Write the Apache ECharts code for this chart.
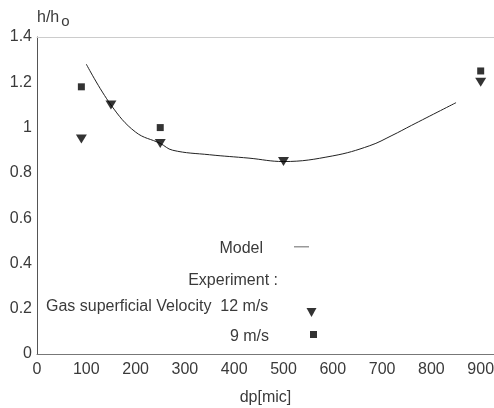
<!DOCTYPE html>
<html>
<head>
<meta charset="utf-8">
<script src="https://cdn.jsdelivr.net/npm/echarts@6/dist/echarts.min.js"></script>
<style>
  html, body { margin: 0; padding: 0; background: #fff; }
  #chart { width: 494px; height: 408px; }
</style>
</head>
<body>
<div id="chart"></div>
<script>
// Model prediction curve: particle diameter (micron) vs h/h0
const modelDp = [100, 150, 200, 250, 275, 350, 430, 500, 600, 675, 720, 760, 850];
const modelH  = [1.28, 1.10, 0.98, 0.93, 0.90, 0.88, 0.865, 0.85, 0.875, 0.92, 0.965, 1.01, 1.11];

// Experimental points, gas superficial velocity 12 m/s
const exp12Dp = [90, 150, 250, 500, 900];
const exp12H  = [0.95, 1.10, 0.93, 0.85, 1.20];

// Experimental points, gas superficial velocity 9 m/s
const exp9Dp = [90, 250, 900];
const exp9H  = [1.18, 1.00, 1.25];

// Axis ticks
const xTicks = [0, 100, 200, 300, 400, 500, 600, 700, 800, 900];
const yTicks = [0, 0.2, 0.4, 0.6, 0.8, 1, 1.2, 1.4];

const pairs = (xs, ys) => xs.map((x, i) => [x, ys[i]]);

const FONT = 'Liberation Sans, Arial, sans-serif';
const TXT = '#3a3a3a';
const FS = 16;

const chart = echarts.init(document.getElementById('chart'), null, { renderer: 'canvas' });

const label = (text, x, y, align) => ({
  type: 'text', x: x, y: y,
  style: {
    text: text, fill: TXT, font: FS + 'px ' + FONT,
    align: align, verticalAlign: 'middle',
    textAlign: align, textVerticalAlign: 'middle'
  }
});

chart.setOption({
  animation: false,
  backgroundColor: '#fff',
  grid: { left: 37, right: 0, top: 37, bottom: 54, outerBoundsMode: 'none', containLabel: false },
  xAxis: [{
    type: 'value',
    min: xTicks[0],
    max: 927,
    interval: 100,
    name: 'dp[mic]',
    nameLocation: 'middle',
    nameGap: 36,
    nameTextStyle: { fontFamily: FONT, fontSize: FS, color: TXT },
    axisLine: { lineStyle: { color: '#777', width: 1 } },
    axisTick: { show: false },
    splitLine: { show: false },
    axisLabel: {
      fontFamily: FONT, fontSize: FS, color: TXT, margin: 8,
      showMaxLabel: false,
      formatter: v => (xTicks.indexOf(v) >= 0 ? String(v) : '')
    }
  }, {
    type: 'value',
    position: 'top',
    min: xTicks[0],
    max: 927,
    axisLine: { show: true, lineStyle: { color: '#ccc', width: 1 } },
    axisTick: { show: false },
    axisLabel: { show: false },
    splitLine: { show: false }
  }],
  yAxis: {
    type: 'value',
    min: yTicks[0],
    max: yTicks[yTicks.length - 1],
    interval: 0.2,
    name: '{a|h/h}{b|o}',
    nameLocation: 'end',
    nameGap: 6,
    nameTextStyle: {
      align: 'left',
      rich: {
        a: { fontFamily: FONT, fontSize: FS, color: TXT },
        b: { fontFamily: FONT, fontSize: 15, color: TXT, padding: [8, 0, 0, 2] }
      }
    },
    axisLine: { show: true, lineStyle: { color: '#555', width: 1 } },
    axisTick: { show: false },
    splitLine: { show: false },
    axisLabel: {
      fontFamily: FONT, fontSize: FS, color: TXT, margin: 5,
      formatter: v => String(Math.round(v * 10) / 10)
    }
  },
  legend: [{
    data: [{ name: 'Model', icon: 'rect', itemStyle: { color: '#999' } }],
    left: 294, top: 246,
    padding: 0,
    itemWidth: 15, itemHeight: 1.5,
    formatter: () => '',
    selectedMode: false
  }, {
    data: [{ name: '12 m/s', icon: 'path://M0,0 L10,0 L5,9 Z' }],
    left: 306, top: 308,
    padding: 0,
    itemWidth: 11, itemHeight: 9,
    formatter: () => '',
    selectedMode: false
  }, {
    data: [{ name: '9 m/s', icon: 'rect' }],
    left: 310, top: 331,
    padding: 0,
    itemWidth: 7, itemHeight: 7,
    formatter: () => '',
    selectedMode: false
  }],
  graphic: [
    label('Model', 263, 249, 'right'),
    label('Experiment :', 278, 281, 'right'),
    label('Gas superficial Velocity  12 m/s', 46, 307, 'left'),
    label('9 m/s', 269, 337, 'right')
  ],
  series: [{
    name: 'Model',
    type: 'line',
    data: pairs(modelDp, modelH),
    smooth: 0.4,
    showSymbol: false,
    symbol: 'none',
    lineStyle: { color: '#222', width: 1 },
    z: 2
  }, {
    name: '12 m/s',
    type: 'scatter',
    data: pairs(exp12Dp, exp12H),
    symbol: 'triangle',
    symbolRotate: 180,
    symbolSize: [11, 9],
    itemStyle: { color: '#000' },
    z: 3
  }, {
    name: '9 m/s',
    type: 'scatter',
    data: pairs(exp9Dp, exp9H),
    symbol: 'rect',
    symbolSize: 7,
    itemStyle: { color: '#000' },
    z: 3
  }]
});
</script>
</body>
</html>
